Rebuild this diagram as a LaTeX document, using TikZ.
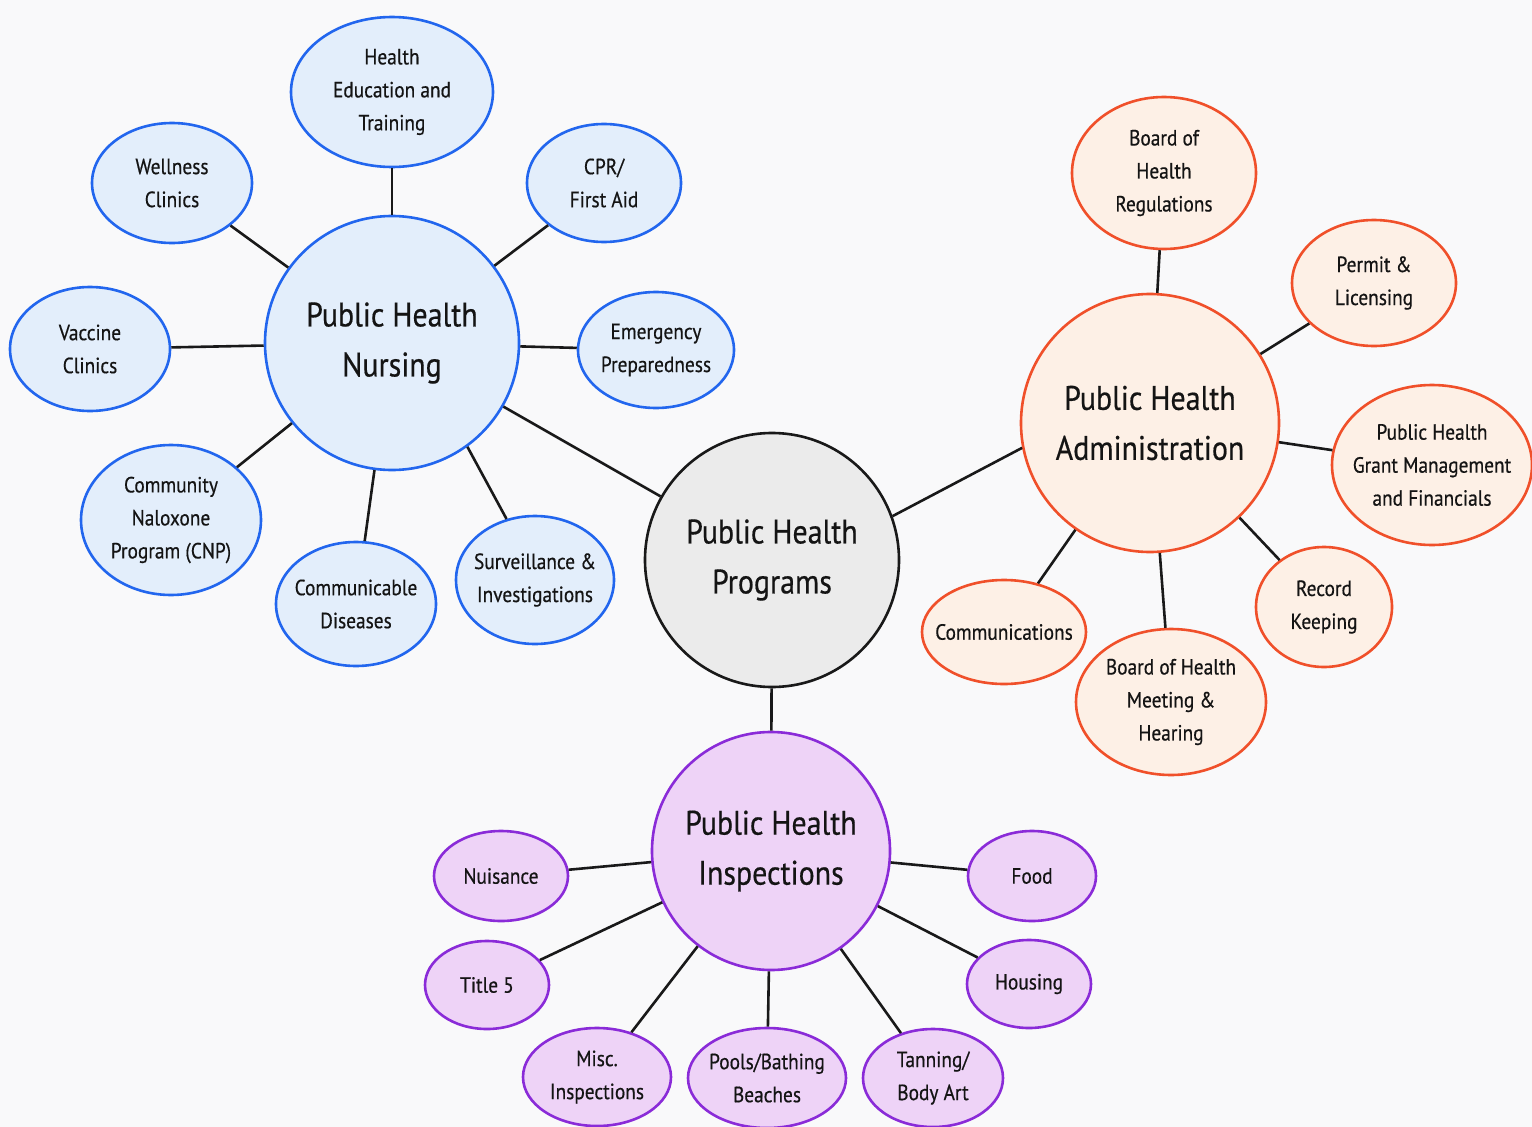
\documentclass[tikz,border=0pt]{standalone}
\usepackage{fontspec}
\setmainfont{PT Sans}[FakeStretch=0.88,FakeBold=0.5]
\usetikzlibrary{shapes.geometric}
\definecolor{bg}{HTML}{F9F9FA}
\definecolor{bluestroke}{HTML}{2266EE}
\definecolor{bluefill}{HTML}{E3EEFB}
\definecolor{orstroke}{HTML}{F0502A}
\definecolor{orfill}{HTML}{FDF0E6}
\definecolor{pustroke}{HTML}{8A2BD8}
\definecolor{pufill}{HTML}{EED3F7}
\definecolor{grfill}{HTML}{EBEBEB}
\definecolor{txt}{HTML}{141414}
\tikzset{
  hub/.style={circle, draw, line width=2.6pt, inner sep=0pt, align=center,
    text=txt, font=\fontsize{34}{50}\selectfont},
  sat/.style={ellipse, draw, line width=2.6pt, inner sep=0pt},
  sattext/.style={align=center, inner sep=0pt, text=txt,
    font=\fontsize{22}{33}\selectfont},
  bluec/.style={draw=bluestroke, fill=bluefill},
  orc/.style={draw=orstroke, fill=orfill},
  puc/.style={draw=pustroke, fill=pufill},
  link/.style={line width=2.6pt, draw=black!90},
}
\newcommand{\el}[7]{\node[sat,#6,minimum width=#3*2pt,minimum height=#4*2pt,
  label={[sattext]center:{#7}}] (#5) at (#1,#2) {};}
\begin{document}
\begin{tikzpicture}[x=1pt,y=-1pt]
\fill[bg] (0,0) rectangle (1532,1127);
\useasboundingbox (0,0) rectangle (1532,1127);
\clip (0,0) rectangle (1532,1127);

% hubs
\node[hub, draw=black!90, fill=grfill, minimum size=254pt] (prog) at (772,560) {Public Health\\Programs};
\node[hub, bluec, minimum size=254pt] (nurs) at (392,343) {Public Health\\Nursing};
\node[hub, orc, minimum size=258pt] (admin) at (1150,423) {Public Health\\Administration};
\node[hub, puc, minimum size=238pt] (insp) at (771,851) {Public Health\\Inspections};

% nursing satellites
\el{392}{92}{101}{75}{hed}{bluec}{Health\\Education and\\Training}
\el{172}{183}{80}{60}{well}{bluec}{Wellness\\Clinics}
\el{604}{183}{77}{59}{cpr}{bluec}{CPR/\\First Aid}
\el{90}{349}{80}{62}{vac}{bluec}{Vaccine\\Clinics}
\el{656}{350}{78}{58}{emer}{bluec}{Emergency\\Preparedness}
\el{171}{520}{90}{75}{cnp}{bluec}{Community\\Naloxone\\Program (CNP)}
\el{356}{604}{80}{62}{comd}{bluec}{Communicable\\Diseases}
\el{535}{580}{79}{64}{surv}{bluec}{Surveillance \&\\Investigations}

% admin satellites
\el{1164}{173}{92}{76}{bohr}{orc}{Board of\\Health\\Regulations}
\el{1374}{283}{82}{63}{perm}{orc}{Permit \&\\Licensing}
\el{1432}{465}{100}{80}{grant}{orc}{Public Health\\Grant Management\\and Financials}
\el{1324}{607}{68}{60}{rec}{orc}{Record\\Keeping}
\el{1004}{632}{82}{52}{comm}{orc}{Communications}
\el{1171}{702}{95}{73}{bohm}{orc}{Board of Health\\Meeting \&\\Hearing}

% inspection satellites
\el{501}{876}{67}{45}{nuis}{puc}{Nuisance}
\el{1032}{876}{64}{45}{food}{puc}{Food}
\el{487}{985}{62}{44}{tit}{puc}{Title 5}
\el{1029}{984}{62}{44}{hous}{puc}{Housing}
\el{597}{1077}{74}{49}{misc}{puc}{Misc.\\Inspections}
\el{767}{1078}{79}{50}{pool}{puc}{Pools/Bathing\\Beaches}
\el{933}{1078}{70}{49}{tan}{puc}{Tanning/\\Body Art}

% connectors
\draw[link] (prog) -- (nurs);
\draw[link] (prog.20.7) -- (admin.191);
\draw[link] (prog) -- (insp);
\foreach \s in {hed,well,cpr,vac,emer,cnp,comd} \draw[link] (nurs) -- (\s);
\draw[link] (nurs.-54) -- (surv.115);
\foreach \s in {bohr,perm,grant,rec,comm,bohm} \draw[link] (admin) -- (\s);
\foreach \s in {nuis,food,tit,hous,misc,pool,tan} \draw[link] (insp) -- (\s);
\end{tikzpicture}
\end{document}
